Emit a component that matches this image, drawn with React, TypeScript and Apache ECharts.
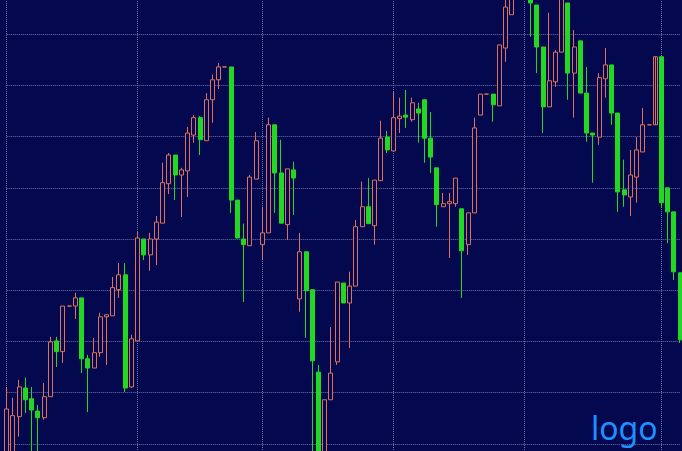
import React, { useEffect, useRef } from "react";
import * as echarts from "echarts";

// Candle values (open / close / low / high), one entry per trading day
const opens = [
  2349, 2365, 2453, 2509, 2488, 2464, 2451, 2492, 2601, 2580,
  2669, 2669, 2685, 2566, 2548, 2578, 2648, 2650, 2701, 2730,
  2511, 2601, 2800, 2769, 2800, 2831, 2908, 2964, 2925, 2933,
  3003, 3037, 2992, 3072, 3111, 3136, 3136, 2876, 2800, 2787,
  2917, 2789, 2812, 3023, 2929, 2828, 2935, 2683, 2775, 2701,
  2540, 2349, 2486, 2560, 2714, 2675, 2708, 2824, 2863, 2826,
  2914, 2999, 2972, 3035, 3042, 3033, 3054, 3072, 2997, 2939,
  2863, 2869, 2869, 2859, 2789, 2851, 3042, 3083, 3083, 3060,
  3173, 3238, 3290, 3355, 3306, 3257, 3175, 3058, 3107, 3165,
  3261, 3124, 3187, 3085, 3007, 2999, 3113, 3140, 3046, 2896,
  2882, 2921, 2970, 3023, 3023, 3156, 2900, 2853, 2734,
];
const closes = [
  2468, 2455, 2511, 2486, 2466, 2451, 2492, 2599, 2580, 2669,
  2669, 2685, 2566, 2548, 2578, 2648, 2652, 2705, 2730, 2509,
  2605, 2802, 2769, 2800, 2833, 2910, 2964, 2925, 2935, 3007,
  3037, 2994, 3072, 3111, 3136, 3136, 2876, 2802, 2789, 2921,
  2992, 2812, 3023, 2929, 2831, 2937, 2919, 2775, 2699, 2562,
  2349, 2486, 2538, 2716, 2675, 2708, 2824, 2863, 2830, 2915,
  2997, 2974, 3037, 3040, 3038, 3066, 3046, 2997, 2960, 2867,
  2869, 2873, 2919, 2777, 2851, 3017, 3083, 3083, 3062, 3179,
  3253, 3287, 3345, 3296, 3261, 3175, 3058, 3109, 3165, 3277,
  3124, 3175, 3085, 3007, 3003, 3115, 3140, 3046, 2892, 2886,
  2925, 2974, 3023, 3023, 3156, 2871, 2853, 2736, 2603,
];
const lows = [
  2330, 2349, 2414, 2460, 2349, 2349, 2447, 2492, 2550, 2558,
  2669, 2644, 2538, 2462, 2548, 2570, 2554, 2650, 2685, 2501,
  2509, 2601, 2759, 2738, 2749, 2831, 2888, 2876, 2843, 2882,
  2988, 2964, 2992, 3027, 3093, 3136, 2851, 2802, 2677, 2787,
  2917, 2759, 2812, 2851, 2831, 2798, 2847, 2658, 2607, 2378,
  2330, 2330, 2486, 2554, 2675, 2587, 2708, 2824, 2830, 2789,
  2914, 2968, 2972, 3007, 3017, 3029, 2988, 2949, 2929, 2824,
  2863, 2763, 2863, 2685, 2769, 2851, 3042, 3083, 3029, 3060,
  3146, 3238, 3277, 3277, 3195, 3124, 3007, 3058, 3097, 3165,
  3072, 3037, 3085, 2990, 2910, 2984, 3076, 3023, 2853, 2863,
  2845, 2871, 2970, 3023, 3023, 2861, 2792, 2720, 2597,
];
const highs = [
  2511, 2490, 2525, 2529, 2511, 2476, 2519, 2609, 2609, 2669,
  2669, 2695, 2685, 2574, 2607, 2656, 2652, 2726, 2753, 2753,
  2613, 2814, 2800, 2812, 2845, 2949, 2968, 2964, 2939, 3019,
  3042, 3040, 3085, 3121, 3144, 3136, 3136, 2876, 2830, 2925,
  3009, 2863, 3037, 3023, 2994, 2937, 2951, 2812, 2775, 2701,
  2554, 2486, 2628, 2716, 2714, 2736, 2837, 2912, 2919, 2915,
  3031, 3011, 3087, 3076, 3091, 3076, 3066, 3072, 3048, 2939,
  2890, 2890, 2919, 2859, 2851, 3037, 3083, 3083, 3083, 3179,
  3277, 3296, 3355, 3365, 3306, 3257, 3175, 3242, 3169, 3287,
  3261, 3208, 3187, 3136, 3007, 3124, 3173, 3140, 3046, 2955,
  2974, 2999, 3056, 3023, 3023, 3156, 2900, 2853, 2734,
];
// Days on which a new month begins (vertical grid lines)
const monthStartIdx = [0, 21, 41, 62, 83, 105];
const categories = opens.map((_, i) => `D${i + 1}`);

const BG = "#03084f";
const RED = "#e0705a";
const GREEN = "#22d822";
const GRID = "#6a74a8";

export default function App() {
  const ref = useRef<HTMLDivElement>(null);
  useEffect(() => {
    if (!ref.current) return;
    const chart = echarts.init(ref.current, undefined, { renderer: "svg" });
    const data = opens.map((o, i) => [o, closes[i], lows[i], highs[i]]);
    chart.setOption({
      animation: false,
      backgroundColor: BG,
      grid: { left: 6.7, right: 1.8, top: 0, bottom: 0 },
      xAxis: {
        type: "category",
        data: categories,
        boundaryGap: false,
        axisLine: { show: false },
        axisTick: { show: false },
        axisLabel: { show: false },
        splitLine: {
          show: true,
          interval: (i: number) => monthStartIdx.includes(i),
          lineStyle: { type: "dotted", color: GRID, width: 1 },
        },
      },
      yAxis: {
        type: "value",
        min: 2300,
        max: 3300,
        interval: 100,
        axisLine: { show: false },
        axisTick: { show: false },
        axisLabel: { show: false },
        splitLine: {
          show: true,
          lineStyle: { type: "dotted", color: GRID, width: 1 },
        },
      },
      series: [
        {
          type: "candlestick",
          data,
          barWidth: 4.5,
          clip: false,
          silent: true,
          itemStyle: {
            color: BG,
            color0: GREEN,
            borderColor: RED,
            borderColor0: GREEN,
            borderColorDoji: RED,
            borderWidth: 1,
          },
        },
      ],
      graphic: [
        {
          type: "text",
          left: 591,
          top: 428,
          style: {
            text: "logo",
            fill: "#1e90ff",
            fontSize: 32,
            fontFamily: "Noto Sans",
          },
        },
      ],
    });
    return () => chart.dispose();
  }, []);
  return (
    <div
      ref={ref}
      style={{ position: "fixed", left: 0, top: -17, width: 682, height: 512 }}
    />
  );
}
